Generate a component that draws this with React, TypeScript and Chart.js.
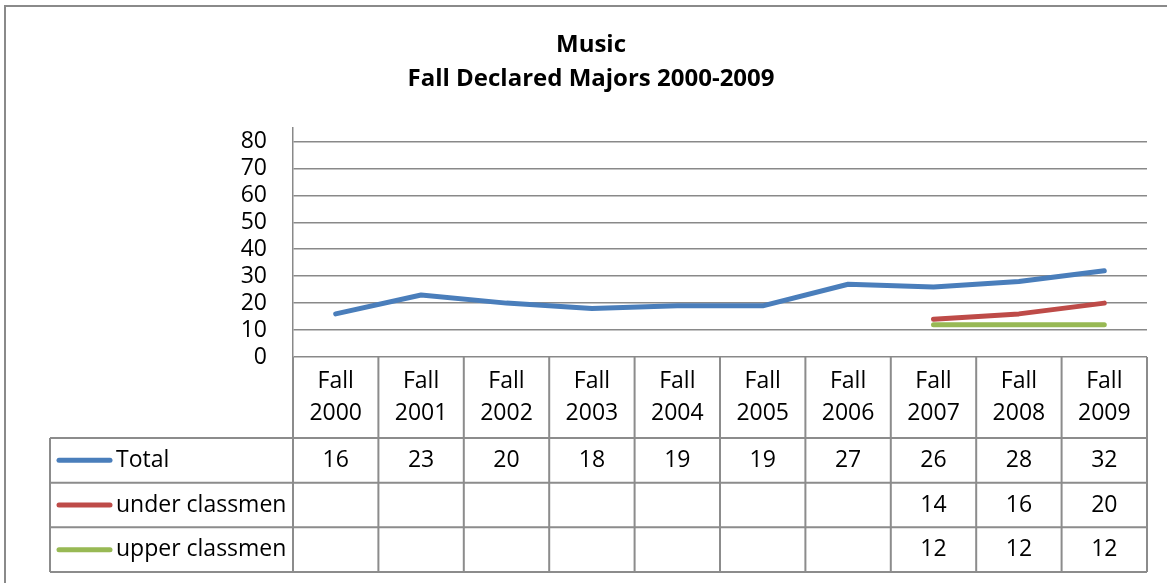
import React, { useEffect, useRef } from "react";
import { Chart, registerables } from "chart.js";

Chart.register(...registerables);

const categories: string[][] = [
  ["Fall", "2000"], ["Fall", "2001"], ["Fall", "2002"], ["Fall", "2003"], ["Fall", "2004"],
  ["Fall", "2005"], ["Fall", "2006"], ["Fall", "2007"], ["Fall", "2008"], ["Fall", "2009"],
];
const totalValues: (number | null)[] = [16, 23, 20, 18, 19, 19, 27, 26, 28, 32];
const underValues: (number | null)[] = [null, null, null, null, null, null, null, 14, 16, 20];
const upperValues: (number | null)[] = [null, null, null, null, null, null, null, 12, 12, 12];
const yTickValues: number[] = [0, 10, 20, 30, 40, 50, 60, 70, 80];
const titleLines: string[] = ["Music", "Fall Declared Majors 2000-2009"];

const FONT = "'Open Sans', 'DejaVu Sans', sans-serif";
const GRID = "#898989";
const TABLE_LINE = "#8c8c8c";

const seriesDefs = [
  { label: "Total", data: totalValues, color: "#4A7EBB" },
  { label: "under classmen", data: underValues, color: "#BE4B48" },
  { label: "upper classmen", data: upperValues, color: "#98B954" },
];

const TABLE_HEIGHT = 215; // header row + 3 series rows below plot
const HEADER_H = 81;
const TABLE_LEFT = 50;
const PAD_LEFT = 35;
const PLOT_LEFT = 293;

const tablePlugin = {
  id: "dataTable",
  afterDraw(chart: any) {
    const ctx = chart.ctx as CanvasRenderingContext2D;
    const area = chart.chartArea;
    const xs = chart.scales.x;
    const n = categories.length;
    const top = area.bottom;
    const bottom = area.bottom + TABLE_HEIGHT;
    const rowTop = top + HEADER_H;
    const rowH = (bottom - rowTop) / seriesDefs.length;
    const centers = categories.map((_, i) => xs.getPixelForValue(i));
    const half = n > 1 ? (centers[1] - centers[0]) / 2 : (area.right - area.left) / 2;

    ctx.save();
    // outer chart border (only left & top visible)
    ctx.strokeStyle = "#8a8a8a";
    ctx.lineWidth = 2;
    ctx.strokeRect(5, 6, 1300, 800);

    ctx.strokeStyle = TABLE_LINE;
    ctx.lineWidth = 2;
    ctx.beginPath();
    for (let i = 0; i <= n; i++) {
      const x = i === 0 ? area.left : centers[i - 1] + half;
      ctx.moveTo(x, top);
      ctx.lineTo(x, bottom);
    }
    ctx.moveTo(TABLE_LEFT, rowTop);
    ctx.lineTo(TABLE_LEFT, bottom);
    for (let r = 0; r <= seriesDefs.length; r++) {
      const y = rowTop + r * rowH;
      ctx.moveTo(TABLE_LEFT, y);
      ctx.lineTo(area.right, y);
    }
    ctx.stroke();

    ctx.font = `23px ${FONT}`;
    ctx.fillStyle = "#000";
    ctx.textBaseline = "middle";
    seriesDefs.forEach((s, r) => {
      const cy = rowTop + r * rowH + rowH / 2;
      ctx.strokeStyle = s.color;
      ctx.lineWidth = 5;
      ctx.lineCap = "round";
      ctx.beginPath();
      ctx.moveTo(59, cy);
      ctx.lineTo(110, cy);
      ctx.stroke();
      ctx.textAlign = "left";
      ctx.fillText(s.label, 116, cy);
      ctx.textAlign = "center";
      s.data.forEach((v, i) => {
        if (v !== null && v !== undefined) ctx.fillText(String(v), centers[i], cy);
      });
    });
    ctx.restore();
  },
};

export default function App() {
  const ref = useRef<HTMLCanvasElement | null>(null);
  useEffect(() => {
    if (!ref.current) return;
    const chart = new Chart(ref.current, {
      type: "line",
      data: {
        labels: categories,
        datasets: seriesDefs.map((s) => ({
          label: s.label,
          data: s.data,
          borderColor: s.color,
          backgroundColor: s.color,
          borderWidth: 5,
          borderCapStyle: "round",
          borderJoinStyle: "round",
          pointRadius: 0,
          pointHoverRadius: 0,
          tension: 0,
          spanGaps: false,
          fill: false,
        })),
      },
      options: {
        animation: false,
        responsive: false,
        maintainAspectRatio: false,
        layout: { padding: { left: PAD_LEFT, right: 20, top: 0, bottom: 11 } },
        plugins: {
          legend: { display: false },
          tooltip: { enabled: false },
          title: {
            display: true,
            text: titleLines,
            color: "#000",
            font: { family: FONT, size: 24, weight: "bold", lineHeight: 34 / 24 },
            padding: { top: 28, bottom: 32 },
          },
        },
        scales: {
          x: {
            type: "category",
            offset: true,
            grid: { display: false, drawTicks: false, tickLength: 0 },
            border: { display: false },
            ticks: {
              color: "#000",
              font: { family: FONT, size: 23, lineHeight: 32 / 23 },
              padding: 8,
              maxRotation: 0,
              autoSkip: false,
            },
            afterFit(scale: any) {
              scale.height = TABLE_HEIGHT;
            },
          },
          y: {
            type: "linear",
            min: 0,
            max: 85,
            grid: { color: GRID, lineWidth: 1.5, drawTicks: false, tickLength: 0 },
            border: { display: true, color: GRID, width: 1.5 },
            ticks: {
              color: "#000",
              font: { family: FONT, size: 23 },
              padding: 26,
              autoSkip: false,
            },
            afterBuildTicks(scale: any) {
              scale.ticks = yTickValues.map((v) => ({ value: v }));
            },
            afterFit(scale: any) {
              scale.width = PLOT_LEFT - PAD_LEFT;
            },
          },
        },
      },
      plugins: [tablePlugin],
    } as any);
    return () => chart.destroy();
  }, []);
  return (
    <div style={{ position: "fixed", left: 0, top: 0, width: 1167, height: 583, background: "#fff" }}>
      <canvas ref={ref} width={1167} height={583} style={{ display: "block" }} />
    </div>
  );
}
